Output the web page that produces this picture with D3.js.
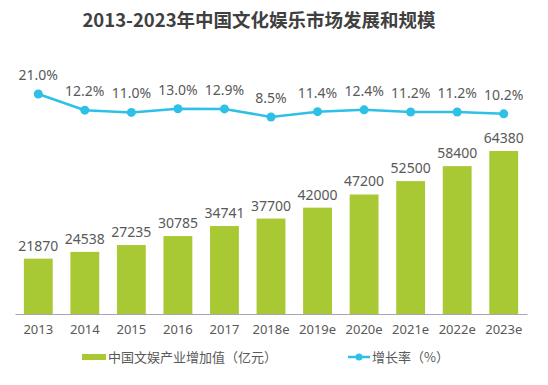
<!DOCTYPE html>
<html>
<head>
<meta charset="utf-8">
<script src="https://cdnjs.cloudflare.com/ajax/libs/d3/7.8.5/d3.min.js"></script>
<style>
  body { margin: 0; background: #fff; }
  text { font-family: "Noto Sans", "Noto Sans CJK SC", sans-serif; }
</style>
</head>
<body>
<div id="wrapper"></div>
<script>
// data
const years = ["2013", "2014", "2015", "2016", "2017", "2018e", "2019e", "2020e", "2021e", "2022e", "2023e"];
const industryValue = [21870, 24538, 27235, 30785, 34741, 37700, 42000, 47200, 52500, 58400, 64380];
const growthRate = [21.0, 12.2, 11.0, 13.0, 12.9, 8.5, 11.4, 12.4, 11.2, 11.2, 10.2];
const titleText = "2013-2023年中国文化娱乐市场发展和规模";
const barLegend = "中国文娱产业增加值（亿元）";
const lineLegend = "增长率（%）";

const width = 548, height = 385;
const barColor = "#a9c934", lineColor = "#2ec0e6", textColor = "#595959";

const svg = d3.select("#wrapper").append("svg")
  .attr("width", width)
  .attr("height", height);

// title
svg.append("text")
  .attr("x", 259).attr("y", 27)
  .attr("text-anchor", "middle")
  .style("font-family", "'Noto Sans CJK SC', sans-serif")
  .style("font-size", "18.5px")
  .style("font-weight", "bold")
  .attr("fill", "#404040")
  .text(titleText);

// scales
const xScale = d3.scaleBand()
  .domain(years)
  .range([15, 527])
  .paddingInner(0.38)
  .paddingOuter(0.19);

const yBar = d3.scaleLinear()
  .domain([0, 64380])
  .range([314, 151]);

const yLine = d3.scaleLinear()
  .domain([8.5, 21])
  .range([117, 94]);

// bars
svg.selectAll("rect.bar")
  .data(industryValue)
  .join("rect")
  .attr("class", "bar")
  .attr("x", (d, i) => xScale(years[i]))
  .attr("y", d => yBar(d))
  .attr("width", xScale.bandwidth())
  .attr("height", d => yBar(0) - yBar(d))
  .attr("fill", barColor);

// bar labels
svg.selectAll("text.barLabel")
  .data(industryValue)
  .join("text")
  .attr("class", "barLabel")
  .attr("x", (d, i) => xScale(years[i]) + xScale.bandwidth() / 2)
  .attr("y", d => yBar(d) - 8)
  .attr("text-anchor", "middle")
  .style("font-size", "14px")
  .attr("fill", textColor)
  .text(d => d);

// x axis
const xAxis = svg.append("g")
  .attr("transform", "translate(0,314)")
  .call(d3.axisBottom(xScale).tickSize(0).tickPadding(11));
xAxis.select(".domain").attr("stroke", "#a6a6b8").attr("stroke-width", 1.2);
xAxis.selectAll("text")
  .style("font-family", "'Noto Sans', sans-serif")
  .style("font-size", "13px")
  .attr("fill", textColor);

// line
const line = d3.line()
  .x((d, i) => xScale(years[i]) + xScale.bandwidth() / 2)
  .y(d => yLine(d));

svg.append("path")
  .datum(growthRate)
  .attr("d", line)
  .attr("fill", "none")
  .attr("stroke", lineColor)
  .attr("stroke-width", 2.5);

svg.selectAll("circle.pt")
  .data(growthRate)
  .join("circle")
  .attr("class", "pt")
  .attr("cx", (d, i) => xScale(years[i]) + xScale.bandwidth() / 2)
  .attr("cy", d => yLine(d))
  .attr("r", 4.5)
  .attr("fill", lineColor);

svg.selectAll("text.rateLabel")
  .data(growthRate)
  .join("text")
  .attr("class", "rateLabel")
  .attr("x", (d, i) => xScale(years[i]) + xScale.bandwidth() / 2)
  .attr("y", d => yLine(d) - 14)
  .attr("text-anchor", "middle")
  .style("font-size", "14px")
  .attr("fill", textColor)
  .text(d => d.toFixed(1) + "%");

// legend
const legend = svg.append("g").attr("transform", "translate(0,357)");
legend.append("rect")
  .attr("x", 82).attr("y", -3)
  .attr("width", 24).attr("height", 6)
  .attr("fill", barColor);
legend.append("text")
  .attr("x", 108).attr("y", 5)
  .style("font-family", "'Noto Sans CJK SC', sans-serif")
  .style("font-size", "13px")
  .attr("fill", textColor)
  .text(barLegend);
legend.append("line")
  .attr("x1", 348).attr("x2", 370)
  .attr("y1", 0).attr("y2", 0)
  .attr("stroke", lineColor).attr("stroke-width", 2.5);
legend.append("circle")
  .attr("cx", 359).attr("cy", 0).attr("r", 3.5)
  .attr("fill", lineColor);
legend.append("text")
  .attr("x", 372).attr("y", 5)
  .style("font-family", "'Noto Sans CJK SC', sans-serif")
  .style("font-size", "13px")
  .attr("fill", textColor)
  .text(lineLegend);
</script>
</body>
</html>
